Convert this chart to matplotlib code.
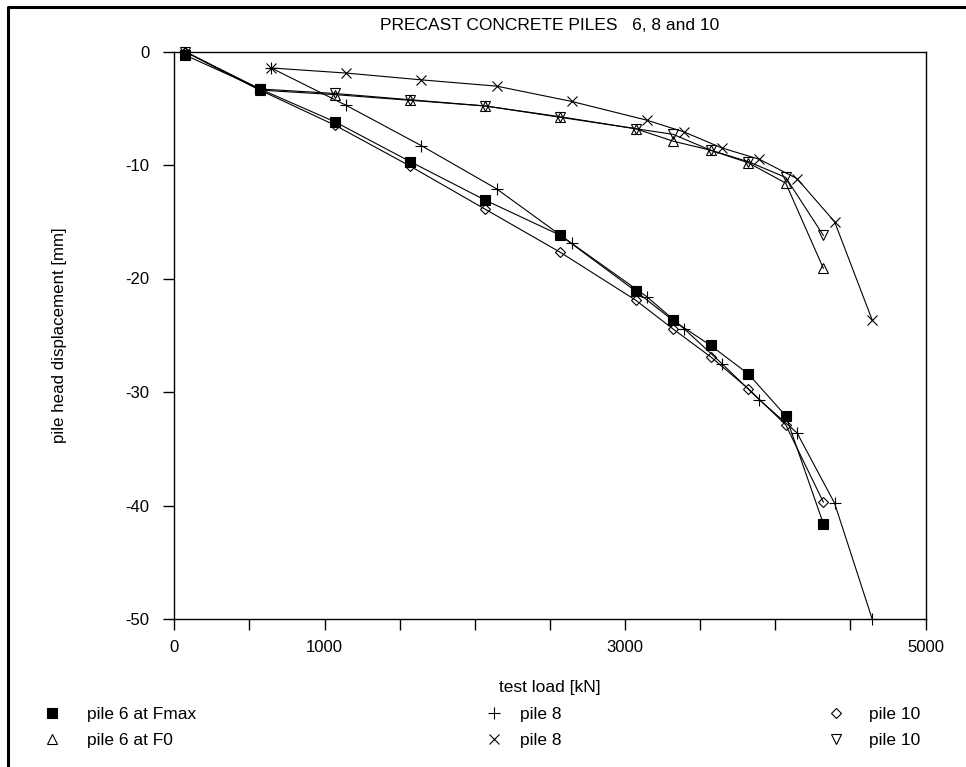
import matplotlib
matplotlib.use('Agg')
import matplotlib.pyplot as plt
from matplotlib.lines import Line2D

plt.rcParams['font.family'] = ['Liberation Sans', 'DejaVu Sans']
plt.rcParams['axes.unicode_minus'] = False

# test load steps [kN]
load_6_10 = [70, 570, 1070, 1570, 2070, 2570, 3070, 3320, 3570, 3820, 4070, 4320]
load_8 = [645, 1145, 1645, 2145, 2645, 3145, 3395, 3645, 3895, 4145, 4395, 4645]

# pile head displacement [mm]
pile6_fmax = [-0.3, -3.3, -6.2, -9.7, -13.1, -16.2, -21.1, -23.7, -25.9, -28.4, -32.1, -41.6]
pile6_f0 = [0.0, -3.4, -3.8, -4.3, -4.8, -5.8, -6.8, -7.9, -8.7, -9.8, -11.6, -19.1]
pile8_fmax = [-1.45, -4.75, -8.3, -12.1, -16.9, -21.6, -24.45, -27.5, -30.7, -33.6, -39.8, -50.0]
pile8_f0 = [-1.45, -1.9, -2.5, -3.05, -4.4, -6.05, -7.1, -8.5, -9.5, -11.2, -15.0, -23.65]
pile10_fmax = [0.0, -3.4, -6.5, -10.1, -13.9, -17.7, -21.9, -24.45, -26.9, -29.7, -32.9, -39.7]
pile10_f0 = [0.0, -3.3, -3.7, -4.25, -4.8, -5.75, -6.8, -7.3, -8.7, -9.7, -11.1, -16.2]

x_ticks = [0, 500, 1000, 1500, 2000, 2500, 3000, 3500, 4000, 4500, 5000]
x_ticklabels = ['0', '', '1000', '', '', '', '3000', '', '', '', '5000']
y_ticks = [0, -10, -20, -30, -40, -50]

labels = ['pile 6 at Fmax', 'pile 6 at F0', 'pile 8', 'pile 8', 'pile 10', 'pile 10']

W, H = 966, 767
fig = plt.figure(figsize=(W / 100, H / 100), dpi=100)
ax = fig.add_axes([174.3 / W, 1 - 619 / H, (925.5 - 174.3) / W, (619 - 51.5) / H])

styles = [
    dict(marker='s', ms=7.4, mfc='k'),
    dict(marker='^', ms=7, mfc='none'),
    dict(marker='+', ms=9, mfc='none'),
    dict(marker='x', ms=7, mfc='none'),
    dict(marker='D', ms=5.5, mfc='none'),
    dict(marker='v', ms=7, mfc='none'),
]
series = [
    (load_6_10, pile6_fmax),
    (load_6_10, pile6_f0),
    (load_8, pile8_fmax),
    (load_8, pile8_f0),
    (load_6_10, pile10_fmax),
    (load_6_10, pile10_f0),
]

# draw open markers first, filled squares on top
for i in [4, 5, 1, 3, 2, 0]:
    x, y = series[i]
    ax.plot(x, y, color='k', lw=0.8, mec='k', mew=0.8, clip_on=False,
            zorder=3 if i == 0 else 2, **styles[i])

ax.set_xlim(0, 5000)
ax.set_ylim(-50, 0)
ax.set_xticks(x_ticks)
ax.set_xticklabels(x_ticklabels)
ax.set_yticks(y_ticks)
ax.set_yticklabels([str(v) for v in y_ticks])
ax.tick_params(axis='x', direction='out', length=8, width=1, labelsize=12, pad=7)
ax.tick_params(axis='y', direction='out', length=8, width=1, labelsize=12, pad=10)
for s in ax.spines.values():
    s.set_linewidth(1.0)

ax.set_title('PRECAST CONCRETE PILES   6, 8 and 10', fontsize=12.5, pad=15.5)
ax.set_xlabel('test load [kN]', fontsize=12.5)
ax.set_ylabel('pile head displacement [mm]', fontsize=12.2)
ax.xaxis.set_label_coords(0.5, -0.108)
ax.yaxis.set_label_coords(-0.143, 0.5)

# legend: three columns of marker-only keys below the plot
proxies = [Line2D([], [], ls='none', color='k', mec='k', mew=0.8, **st) for st in styles]
fs = 12.5
em = fs * 100 / 72
legend_cols = [(0, 52, 87), (2, 494, 520), (4, 836, 869)]
for start, mx, tx in legend_cols:
    x0 = mx - em / 2
    tpad = (tx - (x0 + em)) / em
    fig.legend(proxies[start:start + 2], labels[start:start + 2],
               loc='upper left', bbox_to_anchor=(x0 / W, 1 - 707 / H),
               frameon=False, fontsize=fs, handlelength=1.0,
               handletextpad=tpad, borderpad=0, borderaxespad=0,
               labelspacing=0.6)

# outer frame
fig.add_artist(Line2D([8 / W, 8 / W, 1], [0, 1 - 7 / H, 1 - 7 / H],
                      color='k', lw=2.2, transform=fig.transFigure))

fig.savefig('out.png', dpi=100)
